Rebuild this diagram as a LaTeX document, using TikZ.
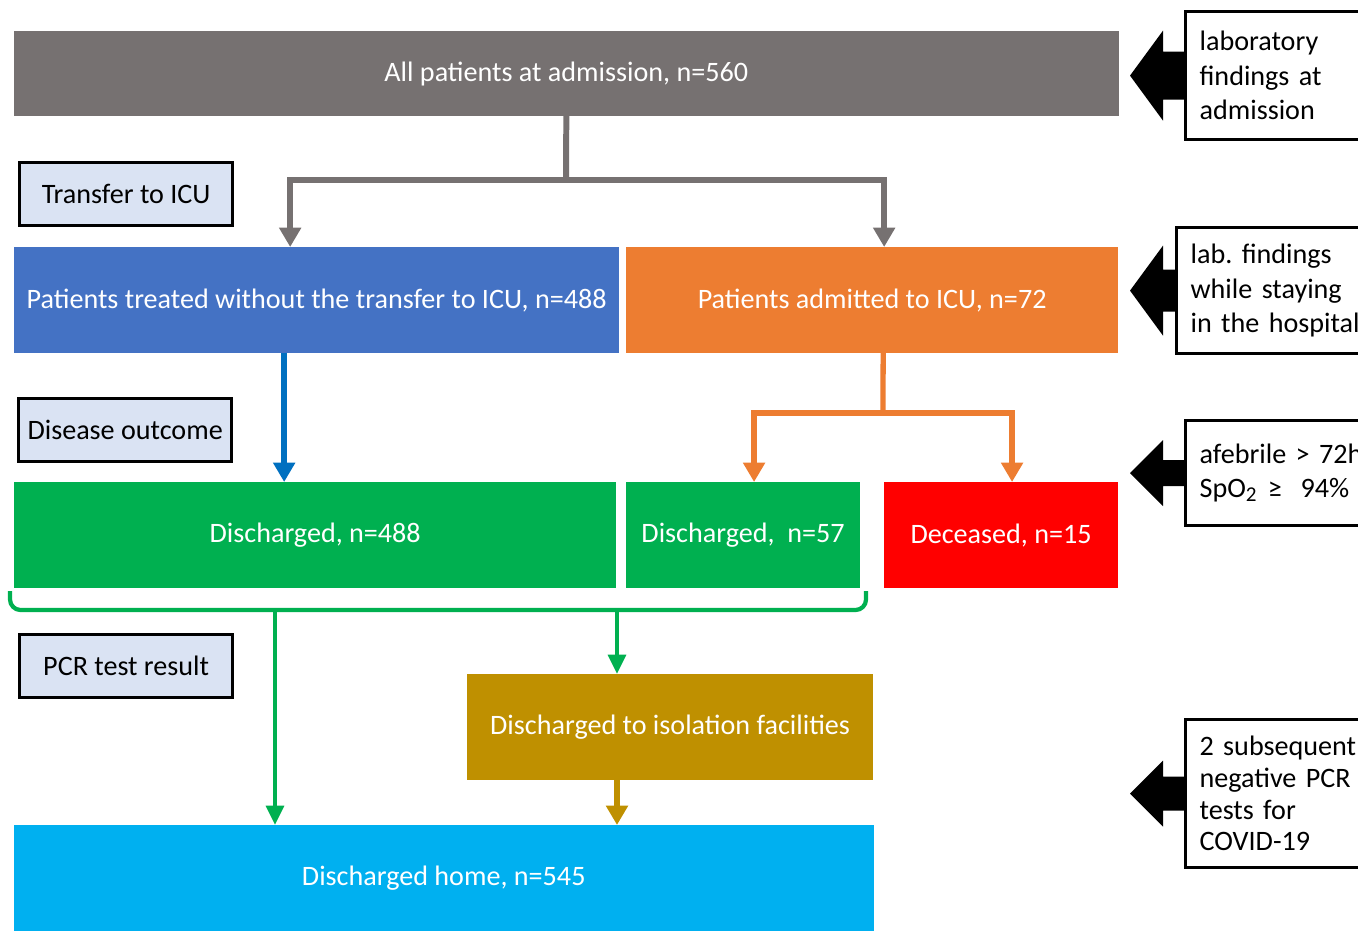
\documentclass[tikz,border=0pt]{standalone}
\usepackage{fontspec}
\setmainfont{Carlito}
\usetikzlibrary{arrows.meta}
\definecolor{boxgray}{HTML}{767171}
\definecolor{boxblue}{HTML}{4472C4}
\definecolor{arrowblue}{HTML}{0070C0}
\definecolor{boxorange}{HTML}{ED7D31}
\definecolor{boxgreen}{HTML}{00B050}
\definecolor{boxred}{HTML}{FF0000}
\definecolor{boxgold}{HTML}{BF9000}
\definecolor{boxcyan}{HTML}{00B0F0}
\definecolor{stagefill}{HTML}{DAE3F3}
\newcommand{\notefont}[1]{\fontsize{8}{#1}\selectfont\spaceskip=1.6pt plus 0.4pt\relax}
\tikzset{
  flowbox/.style={anchor=north west,inner sep=0pt,outer sep=0pt,text=white,
    font=\fontsize{8}{10}\selectfont,align=center},
  stagebox/.style={anchor=north west,draw=black,line width=0.9pt,fill=stagefill,
    inner sep=0pt,minimum width=2.13cm,minimum height=0.63cm,font=\fontsize{8}{10}\selectfont},
  notebox/.style={anchor=north west,draw=black,line width=0.9pt,fill=white,
    inner xsep=0.14cm,inner ysep=0pt,text width=2.1cm,align=left,
    font=\notefont{9.8}},
  grayline/.style={draw=boxgray,line width=1.7pt},
  blueline/.style={draw=arrowblue,line width=1.7pt},
  orangeline/.style={draw=boxorange,line width=1.5pt},
  greenline/.style={draw=boxgreen,line width=1.2pt,
    >={Triangle[width=5pt,length=5.5pt]}},
  goldline/.style={draw=boxgold,line width=1.9pt}
}
\begin{document}
\begin{tikzpicture}[x=0.01cm,y=-0.01cm,>={Triangle[width=6pt,length=5.5pt]}]
\useasboundingbox (0,0) rectangle (1358,930);
\clip (0,0) rectangle (1358,930);
% flow boxes
\node[flowbox,fill=boxgray,minimum width=11.04cm,minimum height=0.85cm] (all) at (14,31) {All patients at admission, n=560};
\node[flowbox,fill=boxblue,minimum width=6.05cm,minimum height=1.06cm] (blue) at (14,247) {Patients treated without the transfer to ICU, n=488};
\node[flowbox,fill=boxorange,minimum width=4.92cm,minimum height=1.06cm] (icu) at (626,247) {Patients admitted to ICU, n=72};
\node[flowbox,fill=boxgreen,minimum width=6.02cm,minimum height=1.06cm] (dis1) at (14,482) {Discharged, n=488};
\node[flowbox,fill=boxgreen,minimum width=2.34cm,minimum height=1.06cm] (dis2) at (626,482) {Discharged,\ \ n=57};
\node[flowbox,fill=boxred,minimum width=2.34cm,minimum height=1.06cm] (dec) at (884,482) {Deceased, n=15};
\node[flowbox,fill=boxgold,minimum width=4.06cm,minimum height=1.06cm] (iso) at (467,674) {Discharged to isolation facilities};
\node[flowbox,fill=boxcyan,minimum width=8.59cm,minimum height=1.07cm] (home) at (14,825) {Discharged home, n=545};
% stage labels
\node[stagebox] (stage1) at (18,161) {Transfer to ICU};
\node[stagebox] (stage2) at (17,397) {Disease outcome};
\node[stagebox] (stage3) at (18,633) {PCR test result};
% criteria on the right
\node[notebox,minimum height=1.28cm] (note1) at (1184,10) {laboratory\\findings at\\admission};
\node[notebox,minimum height=1.26cm] (note2) at (1175,226) {lab.\ findings\\while staying\\in the hospital};
\node[notebox,minimum height=1.05cm] (note3) at (1184,419) {afebrile > 72h\\SpO\textsubscript{2} ≥\ \ 94\%};
\node[notebox,minimum height=1.48cm,font=\notefont{9}] (note4) at (1184,718) {2 subsequent\\negative PCR\\tests for\\COVID-19};
% block arrows
\fill (note1.west) ++(0,-24) -- ++(-21,0) -- ++(0,-21) -- ++(-33,45) -- ++(33,45) -- ++(0,-21) -- ++(21,0) -- cycle;
\fill (note2.west) ++(0,-21) -- ++(-12,0) -- ++(0,-24) -- ++(-33,45) -- ++(33,45) -- ++(0,-24) -- ++(12,0) -- cycle;
\fill (note3.west) ++(0,-13) -- ++(-21,0) -- ++(0,-20) -- ++(-33,33) -- ++(33,33) -- ++(0,-20) -- ++(21,0) -- cycle;
\fill (note4.west) ++(0,-17) -- ++(-21,0) -- ++(0,-16) -- ++(-33,33) -- ++(33,33) -- ++(0,-16) -- ++(21,0) -- cycle;
% connectors
\coordinate (split1) at (566,180);
\draw[grayline] (all.south) -- (split1);
\draw[grayline,->] (split1) -| ([xshift=-2.65mm]blue.north);
\draw[grayline,->] (split1) -| ([xshift=1.2mm]icu.north);
\coordinate (bl) at ([xshift=-3.25mm]blue.south);
\draw[blueline,->] (bl) -- (bl |- dis1.north);
\coordinate (ob) at ([xshift=1.1mm]icu.south);
\coordinate (split2) at (883,413);
\draw[orangeline] (ob) -- (split2);
\draw[orangeline,->] (split2) -| ([xshift=1.1mm]dis2.north);
\draw[orangeline,->] (split2) -| ([xshift=1.1mm]dec.north);
% bracket under the discharged boxes
\draw[greenline,rounded corners=3pt] (10,591) -- (10,610) -- (866,610) -- (866,591);
\coordinate (g1) at (275,610);
\coordinate (g2) at (617,610);
\draw[greenline,->] (g1) -- (g1 |- home.north);
\draw[greenline,->] (g2) -- (g2 |- iso.north);
\draw[goldline,->] (g2 |- iso.south) -- (g2 |- home.north);
\end{tikzpicture}
\end{document}
